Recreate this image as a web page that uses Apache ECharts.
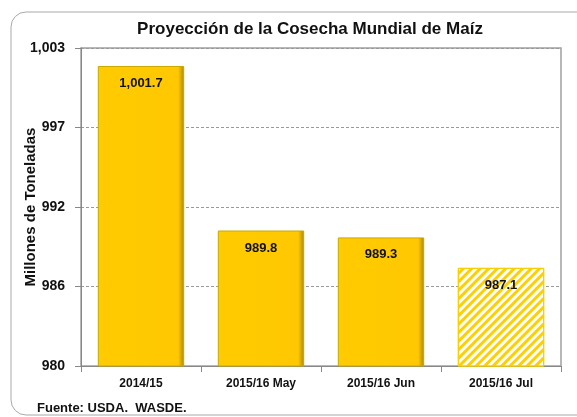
<!DOCTYPE html>
<html>
<head>
<meta charset="utf-8">
<script src="https://cdn.jsdelivr.net/npm/echarts@6/dist/echarts.min.js"></script>
<style>
  html, body { margin: 0; padding: 0; background: #fff; }
  #chart { width: 577px; height: 417px; }
</style>
</head>
<body>
<div id="chart"></div>
<script>
// datos
var categories = ['2014/15', '2015/16 May', '2015/16 Jun', '2015/16 Jul'];
var produccion = [1001.7, 989.8, 989.3, 987.1];
var yMin = 980, yMax = 1003, yStep = 5.75;

var font = '"Liberation Sans", Arial, sans-serif';

// barra con bisel
var gold = new echarts.graphic.LinearGradient(0, 0, 1, 0, [
    { offset: 0, color: '#E8D21A' },
    { offset: 0.04, color: '#FFCB00' },
    { offset: 0.93, color: '#FFC800' },
    { offset: 1, color: '#A88600' }
]);

var barData = produccion.map(function (v, i) {
    if (i === produccion.length - 1) {
        return {
            value: v,
            itemStyle: {
                color: '#ffffff',
                borderColor: '#F5D000',
                borderWidth: 1,
                decal: {
                    symbol: 'rect',
                    symbolSize: 1,
                    color: '#FFD000',
                    dashArrayX: [1, 0],
                    dashArrayY: [3, 3],
                    rotation: -Math.PI / 4
                }
            }
        };
    }
    return { value: v };
});

var myChart = echarts.init(document.getElementById('chart'));
var option = {
    animation: false,
    title: {
        text: 'Proyección de la Cosecha Mundial de Maíz',
        left: 305,
        top: 16,
        textAlign: 'center',
        textStyle: { fontFamily: font, fontSize: 17, fontWeight: 'bold', color: '#111' }
    },
    graphic: [
        {
            type: 'rect',
            shape: { x: 11, y: 12, width: 620, height: 403, r: 15 },
            style: { fill: 'none', stroke: '#a8a8a8', lineWidth: 1 },
            silent: true
        },
        {
            type: 'text',
            left: 37,
            top: 402,
            style: { text: 'Fuente: USDA.  WASDE.', fontFamily: font, fontSize: 13, fontWeight: 'bold', fill: '#111' }
        },
        {
            type: 'rect',
            shape: { x: 81, y: 48, width: 480, height: 318 },
            style: { fill: 'none', stroke: '#a0a0a0', lineWidth: 1.5 },
            silent: true,
            z: -1
        }
    ],
    grid: { left: 81, right: 16, top: 48, bottom: 51, outerBoundsMode: 'none' },
    xAxis: {
        type: 'category',
        data: categories,
        axisLine: { lineStyle: { color: '#888', width: 1 } },
        axisTick: { show: true, length: 6, lineStyle: { color: '#888' } },
        axisLabel: { fontFamily: font, fontSize: 12, fontWeight: 'bold', color: '#111', margin: 12 }
    },
    yAxis: {
        type: 'value',
        min: yMin,
        max: yMax,
        interval: yStep,
        name: 'Millones de Toneladas',
        nameLocation: 'middle',
        nameGap: 43,
        nameMoveOverlap: false,
        nameTextStyle: { fontFamily: font, fontSize: 15, fontWeight: 'bold', color: '#111' },
        axisLine: { show: true, lineStyle: { color: '#888' } },
        axisTick: { show: true, length: 6, lineStyle: { color: '#888' } },
        axisLabel: {
            fontFamily: font, fontSize: 14, fontWeight: 'bold', color: '#111', margin: 16,
            formatter: function (v) {
                return Math.round(v).toLocaleString('en-US');
            }
        },
        splitLine: { show: true, lineStyle: { color: '#999', type: [3, 2], width: 1 } }
    },
    series: [{
        type: 'bar',
        data: barData,
        barWidth: '72%',
        itemStyle: { color: gold, borderColor: '#C9A800', borderWidth: 1 },
        label: {
            show: true,
            position: 'insideTop',
            distance: 11,
            fontFamily: font,
            fontSize: 13,
            fontWeight: 'bold',
            color: '#111',
            formatter: function (p) {
                return p.value.toLocaleString('en-US', { minimumFractionDigits: 1, maximumFractionDigits: 1 });
            }
        }
    }]
};
if (option && typeof option === "object") {
    myChart.setOption(option, true);
}
</script>
</body>
</html>
